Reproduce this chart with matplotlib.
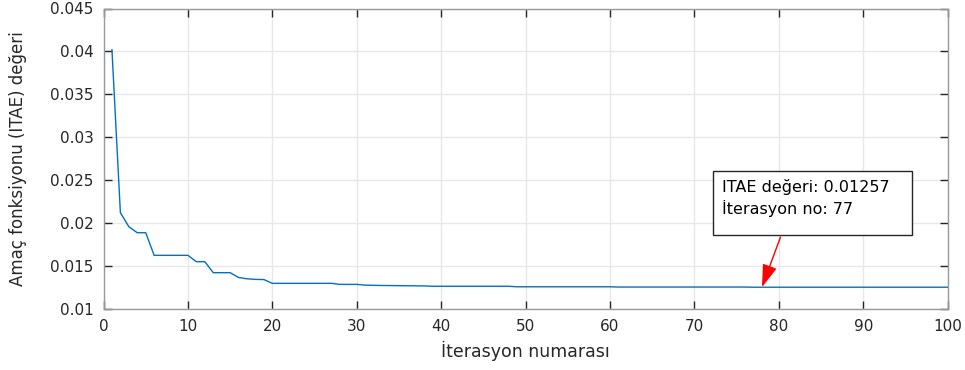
import matplotlib
matplotlib.use("Agg")
import matplotlib.pyplot as plt
from matplotlib.patches import Rectangle

# Data
iterations = list(range(1, 101))
itae_head = [0.0402, 0.02124, 0.01961, 0.01891, 0.01891,
             0.01628, 0.01628, 0.01628, 0.01628, 0.01628,
             0.01554, 0.01554, 0.01426, 0.01426, 0.01426,
             0.01370, 0.01355, 0.01348, 0.01346]
itae_20_27 = [0.01302] * 8
itae_28_30 = [0.01290] * 3
itae_31_38 = [0.01281, 0.01279, 0.01277, 0.01276, 0.01275, 0.01274, 0.01273, 0.01272]
itae_39_48 = [0.01268] * 10
itae_49_60 = [0.01262] * 12
itae_61_76 = [0.01259] * 16
itae_77_100 = [0.01257] * 24
itae = itae_head + itae_20_27 + itae_28_30 + itae_31_38 + itae_39_48 + itae_49_60 + itae_61_76 + itae_77_100

xticks = list(range(0, 101, 10))
yticks = [0.01, 0.015, 0.02, 0.025, 0.03, 0.035, 0.04, 0.045]
ytick_labels = ["0.01", "0.015", "0.02", "0.025", "0.03", "0.035", "0.04", "0.045"]
annot_text = "ITAE değeri: 0.01257\nİterasyon no: 77"
annot_point = (78, 0.01257)

plt.rcParams['font.family'] = ['DejaVu Sans']

W, H = 965, 370
fig = plt.figure(figsize=(W / 100, H / 100), dpi=100)
l, r, t, b = 103.5, 947.7, 8.5, 309.3
ax = fig.add_axes([l / W, 1 - b / H, (r - l) / W, (b - t) / H])

ax.plot(iterations, itae, color='#0072BD', linewidth=1.0)

ax.set_xlim(0, 100)
ax.set_ylim(0.01, 0.045)
ax.set_xticks(xticks)
ax.set_yticks(yticks)
ax.set_yticklabels(ytick_labels)

ax.grid(True, color='#e8e8e8', linewidth=1.0)
ax.set_axisbelow(True)
for s in ax.spines.values():
    s.set_color('#9a9a9a')
    s.set_linewidth(1.0)

ax.tick_params(axis='both', which='both', direction='in', length=6, width=1.0,
               color='#262626', labelcolor='#262626', labelsize=11,
               top=True, right=True)
ax.tick_params(axis='x', pad=7)
ax.tick_params(axis='y', pad=7)

ax.set_xlabel("İterasyon numarası", fontsize=12.5, color='#262626', labelpad=5)
ax.set_ylabel("Amaç fonksiyonu (ITAE) değeri", fontsize=12, color='#262626', labelpad=17)

# Annotation box (pixel positions converted to axes fractions)
box_left, box_top = 713.3, 171
box_w, box_h = 199, 64
rect = Rectangle(((box_left - l) / (r - l), 1 - (box_top + box_h - t) / (b - t)),
                 box_w / (r - l), box_h / (b - t), transform=ax.transAxes,
                 facecolor='white', edgecolor='#262626', linewidth=1.0, zorder=5)
ax.add_patch(rect)
ax.text((box_left + 9 - l) / (r - l), 1 - (box_top + 8 - t) / (b - t), annot_text,
        transform=ax.transAxes, ha='left', va='top', fontsize=11.5,
        color='black', linespacing=1.35, zorder=6)

tail = ((780.5 - l) / (r - l), 1 - (237 - t) / (b - t))
ax.annotate("", xy=annot_point, xycoords='data', xytext=tail, textcoords='axes fraction',
            arrowprops=dict(arrowstyle='-|>,head_length=1.4,head_width=0.45',
                            color='#ff0000', linewidth=1.0, shrinkA=0, shrinkB=0),
            zorder=6)

fig.savefig("out.png", dpi=100)
